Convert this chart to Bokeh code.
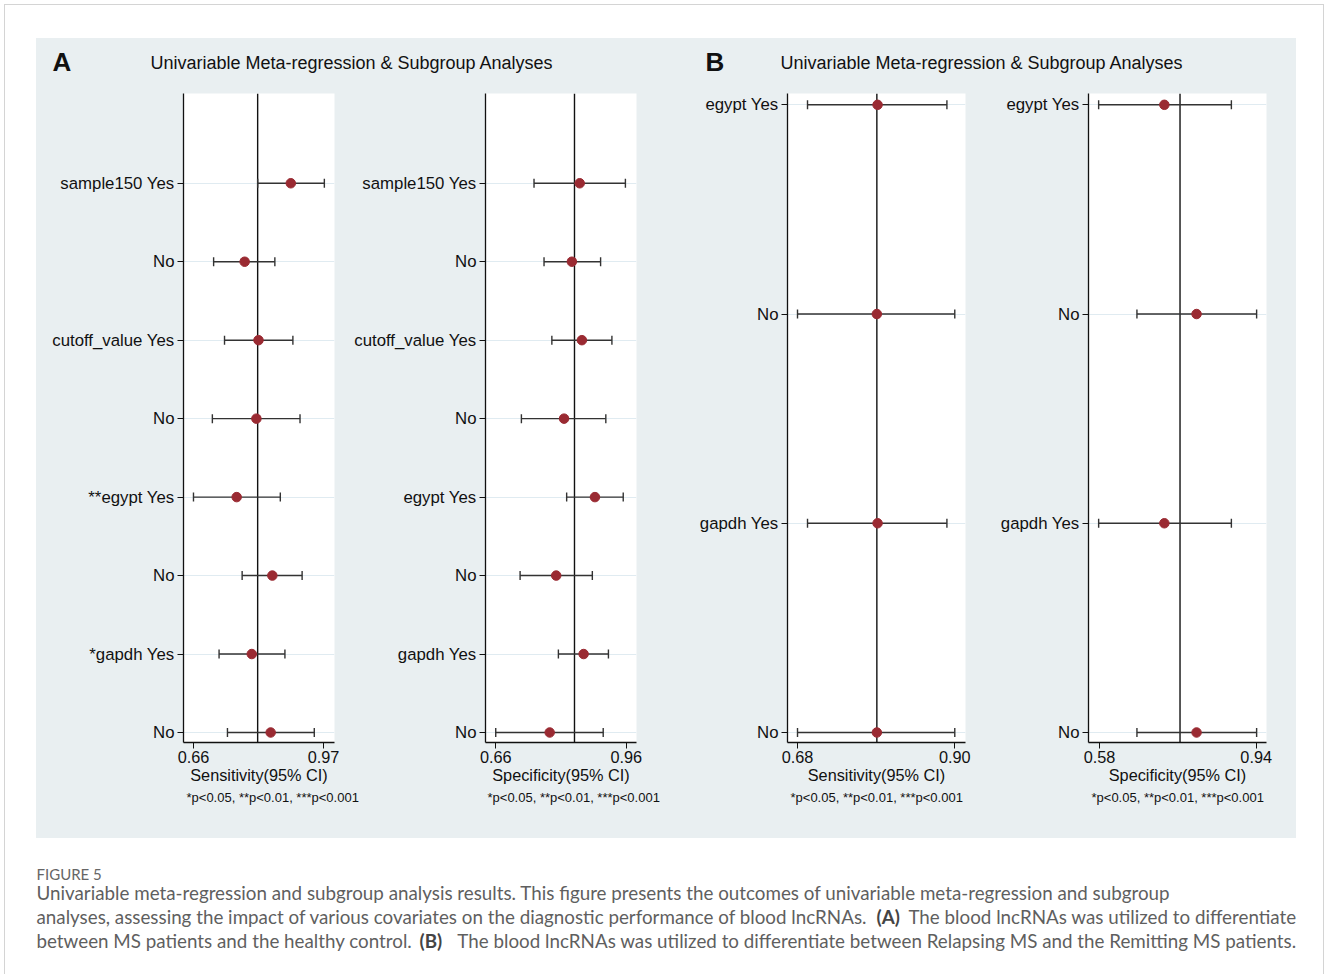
import numpy as np
from bokeh.plotting import figure
from bokeh.models import (ColumnDataSource, Range1d, FixedTicker, Span, Whisker,
                          TeeHead, Label, NumeralTickFormatter, Spacer)
from bokeh.layouts import row, column
from bokeh.embed import file_html
from bokeh.resources import INLINE

# ---------------- data ----------------
# Panel A (rows listed top to bottom)
a_sens_labels = ["sample150 Yes", "No", "cutoff_value Yes", "No", "**egypt Yes", "No", "*gapdh Yes", "No"]
a_spec_labels = ["sample150 Yes", "No", "cutoff_value Yes", "No", "egypt Yes", "No", "gapdh Yes", "No"]

a_sens_est = [0.892, 0.782, 0.815, 0.810, 0.763, 0.848, 0.799, 0.844]
a_sens_lo = [0.813, 0.708, 0.734, 0.705, 0.660, 0.776, 0.721, 0.741]
a_sens_hi = [0.972, 0.854, 0.897, 0.914, 0.867, 0.919, 0.878, 0.948]
a_sens_overall = 0.813
a_sens_ticks = [0.66, 0.97]

a_spec_est = [0.853, 0.835, 0.858, 0.817, 0.888, 0.799, 0.862, 0.784]
a_spec_lo = [0.748, 0.771, 0.789, 0.719, 0.823, 0.716, 0.804, 0.660]
a_spec_hi = [0.958, 0.901, 0.927, 0.913, 0.953, 0.882, 0.919, 0.907]
a_spec_overall = 0.841
a_spec_ticks = [0.66, 0.96]

# Panel B
b_labels = ["egypt Yes", "No", "gapdh Yes", "No"]
b_sens_est = [0.792, 0.791, 0.792, 0.791]
b_sens_lo = [0.694, 0.680, 0.694, 0.680]
b_sens_hi = [0.889, 0.900, 0.889, 0.900]
b_sens_overall = 0.791
b_sens_ticks = [0.68, 0.90]

b_spec_est = [0.729, 0.803, 0.729, 0.803]
b_spec_lo = [0.578, 0.666, 0.578, 0.666]
b_spec_hi = [0.883, 0.941, 0.883, 0.941]
b_spec_overall = 0.765
b_spec_ticks = [0.58, 0.94]

panel_title = "Univariable Meta-regression & Subgroup Analyses"
footnote = "*p<0.05, **p<0.01, ***p<0.001"
caption_head = "FIGURE 5"

# ---------------- style ----------------
BG = "#e9eff1"
GRID = "#e0ebf1"
DOT = "#9a2a32"
BAR = "#333333"
INK = "#111111"
FONT = "Liberation Sans"
CAPFONT = "Lato"
CAPCOL = "#5f5f5f"
EDGE = "#d4d4d4"

Y0, Y1 = 0.8725, 9.144


def blank(w, h, fill, xr, yr):
    f = figure(width=w, height=h, x_range=Range1d(*xr), y_range=Range1d(*yr),
               x_axis_location=None, y_axis_location=None, min_border=0,
               outline_line_color=None, background_fill_color=fill, border_fill_color=fill,
               toolbar_location=None, output_backend="svg")
    f.grid.visible = False
    return f


def make_panel(labels, est, lo, hi, overall, ticks, xr, bl, br, xlabel):
    n = len(labels)
    if n == 8:
        ypos = [float(v) for v in np.arange(8, 0, -1)]
    else:
        ypos = [float(v) for v in np.linspace(9, 1, n)]
    src = ColumnDataSource(dict(y=ypos, est=est, lo=lo, hi=hi))
    p = figure(width=315, height=702, x_range=Range1d(*xr), y_range=Range1d(Y0, Y1),
               min_border_left=bl, min_border_right=br, min_border_top=8, min_border_bottom=45,
               background_fill_color="white", border_fill_color=BG, outline_line_color=None,
               toolbar_location=None, output_backend="svg")
    p.xgrid.visible = False
    p.ygrid.ticker = FixedTicker(ticks=ypos)
    p.ygrid.grid_line_color = GRID
    p.ygrid.grid_line_width = 1.2

    p.add_layout(Span(location=overall, dimension="height", line_color=INK,
                      line_width=1.4, level="underlay"))
    w = Whisker(source=src, base="y", lower="lo", upper="hi", dimension="width",
                line_color=BAR, line_width=1.4, level="underlay",
                upper_head=TeeHead(size=9, line_color=BAR, line_width=1.4),
                lower_head=TeeHead(size=9, line_color=BAR, line_width=1.4))
    p.add_layout(w)
    p.scatter(x="est", y="y", source=src, size=9.5, fill_color=DOT, line_color=DOT)

    # y axis
    p.yaxis.ticker = FixedTicker(ticks=ypos)
    p.yaxis.major_label_overrides = {y: lab for y, lab in zip(ypos, labels)}
    p.yaxis.major_label_text_font = FONT
    p.yaxis.major_label_text_font_size = "16.8px"
    p.yaxis.major_label_text_color = INK
    p.yaxis.major_tick_out = 6
    p.yaxis.major_tick_in = 0
    p.yaxis.major_label_standoff = 3
    p.yaxis.axis_line_width = 1.3
    p.yaxis.axis_line_color = INK
    p.yaxis.major_tick_line_color = INK

    # x axis
    p.xaxis.ticker = FixedTicker(ticks=ticks)
    p.xaxis.formatter = NumeralTickFormatter(format="0.00")
    p.xaxis.major_label_text_font = FONT
    p.xaxis.major_label_text_font_size = "16.3px"
    p.xaxis.major_label_text_color = INK
    p.xaxis.major_tick_out = 6
    p.xaxis.major_tick_in = 0
    p.xaxis.major_label_standoff = 2
    p.xaxis.axis_line_width = 1.3
    p.xaxis.axis_line_color = INK
    p.xaxis.major_tick_line_color = INK
    p.xaxis.axis_label = xlabel
    p.xaxis.axis_label_text_font = FONT
    p.xaxis.axis_label_text_font_size = "16.3px"
    p.xaxis.axis_label_text_font_style = "normal"
    p.xaxis.axis_label_text_color = INK
    p.xaxis.axis_label_standoff = 0
    return p


pA1 = make_panel(a_sens_labels, a_sens_est, a_sens_lo, a_sens_hi, a_sens_overall, a_sens_ticks,
                 (0.6362, 0.9962), 147, 17, "Sensitivity(95% CI)")
pA2 = make_panel(a_spec_labels, a_spec_est, a_spec_lo, a_spec_hi, a_spec_overall, a_spec_ticks,
                 (0.6365, 0.9835), 133, 30, "Specificity(95% CI)")
pB1 = make_panel(b_labels, b_sens_est, b_sens_lo, b_sens_hi, b_sens_overall, b_sens_ticks,
                 (0.6660, 0.9150), 121, 16, "Sensitivity(95% CI)")
pB2 = make_panel(b_labels, b_spec_est, b_spec_lo, b_spec_hi, b_spec_overall, b_spec_ticks,
                 (0.5547, 0.9637), 107, 30, "Specificity(95% CI)")


def title_fig(letter, letter_x):
    t = blank(630, 47, BG, (0, 630), (47, 0))
    t.add_layout(Label(x=letter_x, y=23, text=letter, text_font=FONT, text_font_style="bold",
                       text_font_size="26px", text_color=INK, text_baseline="middle"))
    t.add_layout(Label(x=315.5, y=24, text=panel_title, text_font=FONT, text_font_size="18px",
                       text_color=INK, text_baseline="middle", text_align="center"))
    return t


tA = title_fig("A", 16)
tB = title_fig("B", 39)

# footnote strip under the four panels (page coordinates)
foot = blank(1260, 51, BG, (36, 1296), (838, 787))
for fx in [186, 487, 790, 1091]:
    foot.add_layout(Label(x=fx, y=797, text=footnote, text_font=FONT, text_font_size="13px",
                          text_color=INK, text_baseline="middle", text_align="left"))

# caption (transparent so the page frame line shows through)
cap = blank(1328, 136, None, (0, 1328), (974, 838))


def cap_label(x, y, text, bold=False, align="left", size="18.8px", color=CAPCOL):
    cap.add_layout(Label(x=x, y=y, text=text, text_font=CAPFONT, text_font_size=size,
                         text_font_style="bold" if bold else "normal", text_color=color,
                         text_baseline="middle", text_align=align))


cap_label(36, 873, caption_head, size="15px", color="#666666")
cap_label(36, 892, "Univariable meta-regression and subgroup analysis results. This figure presents the outcomes of univariable meta-regression and subgroup")
cap_label(36, 916, "analyses, assessing the impact of various covariates on the diagnostic performance of blood lncRNAs.")
cap_label(876, 916, "(A)", bold=True, color="#444444")
cap_label(1296, 916, "The blood lncRNAs was utilized to differentiate", align="right")
cap_label(36, 940, "between MS patients and the healthy control.")
cap_label(419, 940, "(B)", bold=True, color="#444444")
cap_label(1296, 940, "The blood lncRNAs was utilized to differentiate between Relapsing MS and the Remitting MS patients.", align="right")

GRAYROW = {"background-color": BG}
frame_bg = (f"linear-gradient({EDGE},{EDGE}) 4px 4px / 1px 975px no-repeat, "
            f"linear-gradient({EDGE},{EDGE}) 1323px 4px / 1px 975px no-repeat, "
            f"linear-gradient({EDGE},{EDGE}) 4px 4px / 1320px 1px no-repeat, #ffffff")

layout = column(
    Spacer(width=1328, height=38),
    row(Spacer(width=36, height=47), row(tA, tB, styles=GRAYROW), Spacer(width=32, height=47)),
    row(Spacer(width=36, height=702), row(pA1, pA2, pB1, pB2, styles=GRAYROW),
        Spacer(width=32, height=702)),
    row(Spacer(width=36, height=51), row(foot, styles=GRAYROW), Spacer(width=32, height=51)),
    cap,
    styles={"background": frame_bg},
)

open("out.html", "w").write(file_html(layout, INLINE))
